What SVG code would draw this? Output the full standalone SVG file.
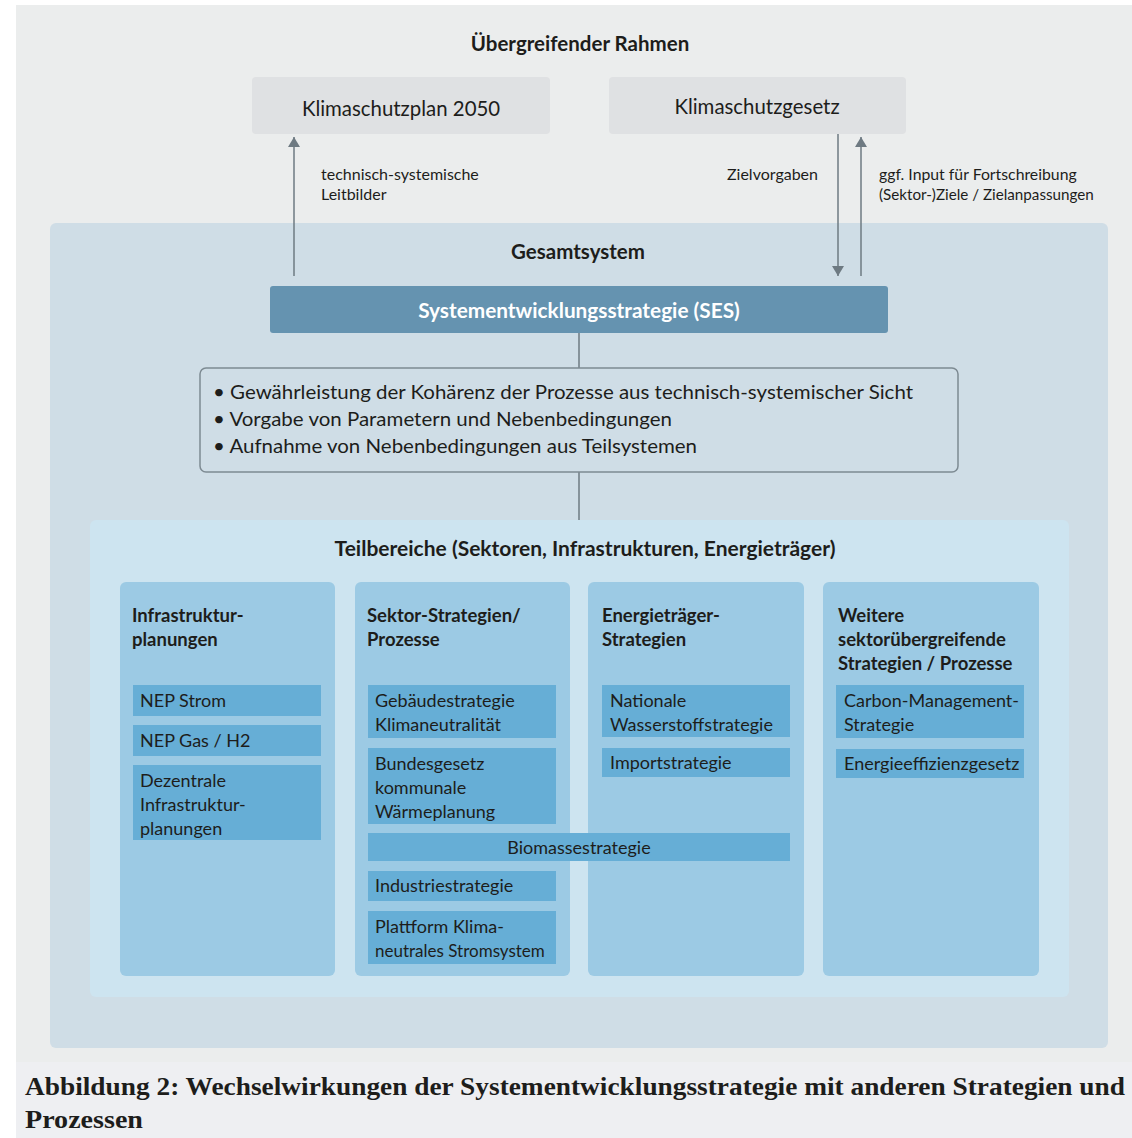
<svg xmlns="http://www.w3.org/2000/svg" width="1132" height="1138" viewBox="0 0 1132 1138">
<defs>
<style>
.t{font-family:Lato,"Open Sans","Noto Sans",sans-serif;fill:#1d1d1b}
.b{font-weight:bold}
.top{fill:#dfe1e3}
.col{fill:#9ccae4}
.item{fill:#66aed6}
.it{font-size:18px}
.ct{font-size:18.5px;font-weight:bold}
.lbl{font-size:16px}
.conn{stroke:#6e7a82;stroke-width:1.5;fill:none}
.cap{font-family:"Liberation Serif",serif;font-weight:bold;font-size:25px;fill:#1d1d1b}
</style>
<marker id="ah" viewBox="0 0 10 12" refX="10" refY="6" markerWidth="10" markerHeight="12" markerUnits="userSpaceOnUse" orient="auto">
<path d="M0,0 L10,6 L0,12 Z" fill="#6e7a82"/>
</marker>
</defs>
<rect width="1132" height="1138" fill="#ffffff"/>
<rect x="16" y="5" width="1116" height="1057" fill="#ebeded"/>
<rect x="16" y="1062" width="1116" height="76" fill="#eeeff2"/>

<text class="t b" x="580" y="51" font-size="20.5" text-anchor="middle">Übergreifender Rahmen</text>

<g id="klimaschutzplan">
<rect class="top" x="252" y="77" width="298" height="57" rx="4"/>
<text class="t" x="401" y="116" font-size="20.4" text-anchor="middle">Klimaschutzplan 2050</text>
</g>
<g id="klimaschutzgesetz">
<rect class="top" x="609" y="77" width="297" height="57" rx="4"/>
<text class="t" x="757" y="114" font-size="20.4" text-anchor="middle">Klimaschutzgesetz</text>
</g>

<g id="gesamtsystem">
<rect x="50" y="223" width="1058" height="825" rx="6" fill="#cfdde6"/>
<text class="t b" x="578" y="259" font-size="20.5" text-anchor="middle">Gesamtsystem</text>
</g>

<g id="connectors">
<line class="conn" x1="294" y1="276" x2="294" y2="137" marker-end="url(#ah)"/>
<line class="conn" x1="838" y1="134" x2="838" y2="276" marker-end="url(#ah)"/>
<line class="conn" x1="861" y1="276" x2="861" y2="137" marker-end="url(#ah)"/>
<line class="conn" x1="579" y1="333" x2="579" y2="368"/>
<line class="conn" x1="579" y1="472" x2="579" y2="520"/>
<text class="t lbl" x="321" y="180">technisch-systemische</text>
<text class="t lbl" x="321" y="200">Leitbilder</text>
<text class="t lbl" x="818" y="180" text-anchor="end">Zielvorgaben</text>
<text class="t lbl" x="879" y="180" style="font-size:15.8px">ggf. Input für Fortschreibung</text>
<text class="t lbl" x="879" y="200" style="font-size:15.2px">(Sektor-)Ziele / Zielanpassungen</text>
</g>

<g id="ses">
<rect x="270" y="286" width="618" height="47" rx="3" fill="#6593b0"/>
<text class="t b" x="579" y="318" font-size="20.8" text-anchor="middle" style="fill:#ffffff">Systementwicklungsstrategie (SES)</text>
</g>

<g id="aufgaben">
<rect x="200" y="368" width="758" height="104" rx="6" fill="#cfdde6" stroke="#7d8a92" stroke-width="1.5"/>
<text class="t" x="213" y="399" font-size="20" textLength="700" lengthAdjust="spacingAndGlyphs">• Gewährleistung der Kohärenz der Prozesse aus technisch-systemischer Sicht</text>
<text class="t" x="213" y="426" font-size="20" textLength="459" lengthAdjust="spacingAndGlyphs">• Vorgabe von Parametern und Nebenbedingungen</text>
<text class="t" x="213" y="453" font-size="20" textLength="484" lengthAdjust="spacingAndGlyphs">• Aufnahme von Nebenbedingungen aus Teilsystemen</text>
</g>

<g id="teilbereiche">
<rect x="90" y="520" width="979" height="477" rx="6" fill="#cde4f0"/>
<text class="t b" x="585" y="556" font-size="21" text-anchor="middle">Teilbereiche (Sektoren, Infrastrukturen, Energieträger)</text>
</g>

<g id="infrastruktur">
<rect class="col" x="120" y="582" width="215" height="394" rx="6"/>
<text class="t ct" x="132" y="622">Infrastruktur-</text>
<text class="t ct" x="132" y="646">planungen</text>
</g>
<g id="nep-strom">
<rect class="item" x="133" y="685" width="188" height="31"/>
<text class="t it" x="140" y="707">NEP Strom</text>
</g>
<g id="nep-gas">
<rect class="item" x="133" y="725" width="188" height="31"/>
<text class="t it" x="140" y="747">NEP Gas / H2</text>
</g>
<g id="dezentrale">
<rect class="item" x="133" y="765" width="188" height="75"/>
<text class="t it" x="140" y="787">Dezentrale</text>
<text class="t it" x="140" y="811">Infrastruktur-</text>
<text class="t it" x="140" y="835">planungen</text>
</g>

<g id="sektor">
<rect class="col" x="355" y="582" width="215" height="394" rx="6"/>
<text class="t ct" x="367" y="622">Sektor-Strategien/</text>
<text class="t ct" x="367" y="646">Prozesse</text>
</g>
<g id="gebaeude">
<rect class="item" x="368" y="685" width="188" height="53"/>
<text class="t it" x="375" y="707">Gebäudestrategie</text>
<text class="t it" x="375" y="731">Klimaneutralität</text>
</g>
<g id="waermeplanung">
<rect class="item" x="368" y="748" width="188" height="76"/>
<text class="t it" x="375" y="770">Bundesgesetz</text>
<text class="t it" x="375" y="794">kommunale</text>
<text class="t it" x="375" y="818">Wärmeplanung</text>
</g>

<g id="energietraeger">
<rect class="col" x="588" y="582" width="216" height="394" rx="6"/>
<text class="t ct" x="602" y="622">Energieträger-</text>
<text class="t ct" x="602" y="646">Strategien</text>
</g>
<g id="wasserstoff">
<rect class="item" x="602" y="685" width="188" height="52"/>
<text class="t it" x="610" y="707">Nationale</text>
<text class="t it" x="610" y="731">Wasserstoffstrategie</text>
</g>
<g id="import">
<rect class="item" x="602" y="748" width="188" height="29"/>
<text class="t it" x="610" y="769">Importstrategie</text>
</g>

<g id="weitere">
<rect class="col" x="823" y="582" width="216" height="394" rx="6"/>
<text class="t ct" x="838" y="622">Weitere</text>
<text class="t ct" x="838" y="646">sektorübergreifende</text>
<text class="t ct" x="838" y="670">Strategien / Prozesse</text>
</g>
<g id="carbon">
<rect class="item" x="836" y="685" width="188" height="53"/>
<text class="t it" x="844" y="707">Carbon-Management-</text>
<text class="t it" x="844" y="731">Strategie</text>
</g>
<g id="effizienz">
<rect class="item" x="836" y="749" width="188" height="29"/>
<text class="t it" x="844" y="770">Energieeffizienzgesetz</text>
</g>

<g id="biomasse">
<rect class="item" x="368" y="833" width="422" height="28"/>
<text class="t it" x="579" y="854" text-anchor="middle">Biomassestrategie</text>
</g>
<g id="industrie">
<rect class="item" x="368" y="871" width="188" height="30"/>
<text class="t it" x="375" y="892">Industriestrategie</text>
</g>
<g id="plattform">
<rect class="item" x="368" y="911" width="188" height="53"/>
<text class="t it" x="375" y="933">Plattform Klima-</text>
<text class="t it" x="375" y="957" style="font-size:17px">neutrales Stromsystem</text>
</g>

<g id="caption">
<text class="cap" x="25" y="1095" textLength="1100" lengthAdjust="spacingAndGlyphs">Abbildung 2: Wechselwirkungen der Systementwicklungsstrategie mit anderen Strategien und</text>
<text class="cap" x="25" y="1128" textLength="118" lengthAdjust="spacingAndGlyphs">Prozessen</text>
</g>
</svg>
